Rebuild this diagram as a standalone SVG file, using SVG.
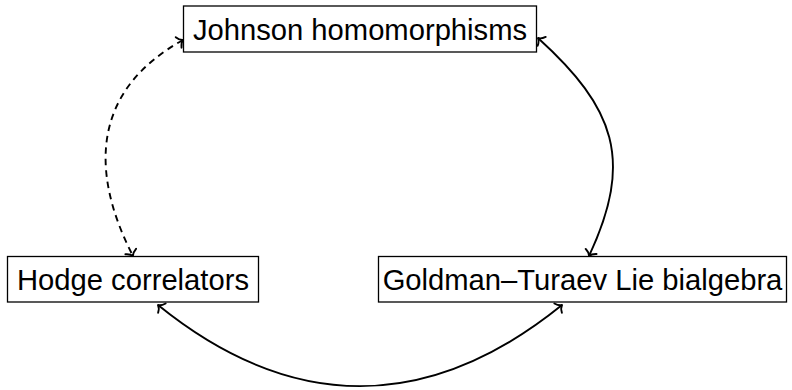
<svg xmlns="http://www.w3.org/2000/svg" width="792" height="390" viewBox="0 0 792 390">
<style>
.box{fill:#fff;stroke:#000;stroke-width:1.3}
.lbl{font-family:"Liberation Sans",Arial,sans-serif;font-size:29.2px;fill:#000;text-anchor:middle}
.edge{fill:none;stroke:#000;stroke-width:1.9}
.dash{stroke-dasharray:6.5,5}
.tip{fill:none;stroke:#000;stroke-width:1.9;stroke-linecap:round;stroke-linejoin:round}
</style>
<defs>
<marker id="arr" viewBox="-8 -8 16 16" markerWidth="16" markerHeight="16" markerUnits="userSpaceOnUse" refX="0" refY="0" orient="auto-start-reverse">
<path class="tip" d="M-5,-6 C-3.5,-2.5 -1.2,-0.5 0,0 C-1.2,0.5 -3.5,2.5 -5,6"/>
</marker>
</defs>
<g id="connectors">
<path class="edge dash" d="M183,40 C95.5,88.5 87.2,167.1 133,256" marker-start="url(#arr)" marker-end="url(#arr)"/>
<path class="edge" d="M538,38 C615,108 634,160 589,256" marker-start="url(#arr)" marker-end="url(#arr)"/>
<path class="edge" d="M158,305 C291.6,413.2 428.4,413.2 562,305" marker-start="url(#arr)" marker-end="url(#arr)"/>
</g>
<g id="johnson">
<rect class="box" x="183.5" y="6" width="353" height="46"/>
<text class="lbl" x="360" y="39.5">Johnson homomorphisms</text>
</g>
<g id="hodge">
<rect class="box" x="7.5" y="256.5" width="251" height="45.5"/>
<text class="lbl" x="133" y="289.5">Hodge correlators</text>
</g>
<g id="goldman">
<rect class="box" x="378.5" y="256.5" width="408" height="45.5"/>
<text class="lbl" x="582.5" y="289.5">Goldman–Turaev Lie bialgebra</text>
</g>
</svg>
